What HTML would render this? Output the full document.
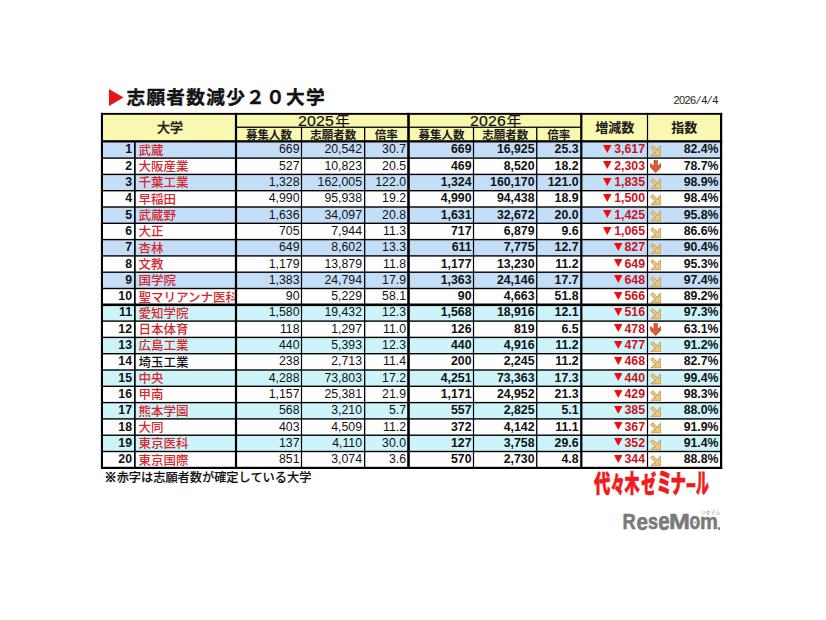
<!DOCTYPE html>
<html><head><meta charset="utf-8"><style>
html,body{margin:0;padding:0;background:#fff;}
body{width:826px;height:620px;position:relative;overflow:hidden;font-family:"Liberation Sans","Noto Sans CJK JP",sans-serif;}
.a{position:absolute;}
.bg{position:absolute;}
.ln{position:absolute;background:#000;}
.t{position:absolute;white-space:nowrap;font-size:12.3px;line-height:16px;color:#111;}
.r{text-align:right;}
.b{font-weight:bold;}
.jp{font-family:"Liberation Sans","Noto Sans CJK JP",sans-serif;}
.red{color:#d8262b;}
.h{position:absolute;white-space:nowrap;text-align:center;font-family:"Liberation Sans","Noto Sans CJK JP",sans-serif;font-weight:bold;color:#1a1a1a;}
</style></head><body>

<svg class="a" style="left:109px;top:89px" width="15" height="17" viewBox="0 0 15 17"><polygon points="0,0 14.5,8.5 0,17" fill="#e8141c"/></svg>
<div class="a" style="left:126.5px;top:83.2px;font-family:'Liberation Sans','Noto Sans CJK JP',sans-serif;font-weight:bold;font-size:18.7px;line-height:30px;color:#111;letter-spacing:1.25px;-webkit-text-stroke:0.35px #111;white-space:nowrap">志願者数減少２０大学</div>
<div class="a" style="left:673.4px;top:93.3px;font-family:'Liberation Sans',sans-serif;font-size:11px;line-height:14px;color:#1a1a1a;letter-spacing:-0.6px;white-space:nowrap">2026<span style="display:inline-block;transform:skewX(-14deg);margin:0 1.5px 0 1.7px">/</span>4<span style="display:inline-block;transform:skewX(-14deg);margin:0 1.5px 0 1.7px">/</span>4</div>
<svg class="a" style="left:0;top:0" width="826" height="620" viewBox="0 0 826 620"><rect x="101" y="113" width="621" height="28.30000000000001" fill="#f9f8b0"/><rect x="101" y="141.30" width="621" height="16.80" fill="#c5def8"/><rect x="101" y="158.10" width="621" height="16.30" fill="#fefefe"/><rect x="101" y="174.40" width="621" height="16.30" fill="#c5def8"/><rect x="101" y="190.70" width="621" height="16.30" fill="#fefefe"/><rect x="101" y="207.00" width="621" height="16.30" fill="#c5def8"/><rect x="101" y="223.30" width="621" height="16.30" fill="#fefefe"/><rect x="101" y="239.60" width="621" height="16.30" fill="#c5def8"/><rect x="101" y="255.90" width="621" height="16.30" fill="#fefefe"/><rect x="101" y="272.20" width="621" height="16.30" fill="#c5def8"/><rect x="101" y="288.50" width="621" height="16.30" fill="#fefefe"/><rect x="101" y="304.80" width="621" height="16.30" fill="#cdf4fa"/><rect x="101" y="321.10" width="621" height="16.30" fill="#fefefe"/><rect x="101" y="337.40" width="621" height="16.30" fill="#cdf4fa"/><rect x="101" y="353.70" width="621" height="16.30" fill="#fefefe"/><rect x="101" y="370.00" width="621" height="16.30" fill="#cdf4fa"/><rect x="101" y="386.30" width="621" height="16.30" fill="#fefefe"/><rect x="101" y="402.60" width="621" height="16.30" fill="#cdf4fa"/><rect x="101" y="418.90" width="621" height="16.30" fill="#fefefe"/><rect x="101" y="435.20" width="621" height="16.30" fill="#cdf4fa"/><rect x="101" y="451.50" width="621" height="16.30" fill="#fefefe"/><rect x="101" y="112.90" width="621.20" height="1.90" fill="#000"/><rect x="235" y="126.60" width="347.00" height="1.30" fill="#000"/><rect x="101" y="140.20" width="621.20" height="2.30" fill="#000"/><rect x="101" y="157.40" width="621.20" height="1.40" fill="#000"/><rect x="101" y="173.70" width="621.20" height="1.40" fill="#000"/><rect x="101" y="190.00" width="621.20" height="1.40" fill="#000"/><rect x="101" y="206.30" width="621.20" height="1.40" fill="#000"/><rect x="101" y="222.60" width="621.20" height="1.40" fill="#000"/><rect x="101" y="238.90" width="621.20" height="1.40" fill="#000"/><rect x="101" y="255.20" width="621.20" height="1.40" fill="#000"/><rect x="101" y="271.50" width="621.20" height="1.40" fill="#000"/><rect x="101" y="287.80" width="621.20" height="1.40" fill="#000"/><rect x="101" y="303.50" width="621.20" height="2.60" fill="#000"/><rect x="101" y="320.40" width="621.20" height="1.40" fill="#000"/><rect x="101" y="336.70" width="621.20" height="1.40" fill="#000"/><rect x="101" y="353.00" width="621.20" height="1.40" fill="#000"/><rect x="101" y="369.30" width="621.20" height="1.40" fill="#000"/><rect x="101" y="385.60" width="621.20" height="1.40" fill="#000"/><rect x="101" y="401.90" width="621.20" height="1.40" fill="#000"/><rect x="101" y="418.20" width="621.20" height="1.40" fill="#000"/><rect x="101" y="434.50" width="621.20" height="1.40" fill="#000"/><rect x="101" y="450.80" width="621.20" height="1.40" fill="#000"/><rect x="101" y="466.80" width="621.20" height="2.20" fill="#000"/><rect x="100.9" y="112.90" width="2.10" height="356.10" fill="#000"/><rect x="134.0" y="141.00" width="1.70" height="328.00" fill="#000"/><rect x="234.9" y="112.90" width="2.20" height="356.10" fill="#000"/><rect x="300.9" y="127.00" width="1.20" height="342.00" fill="#000"/><rect x="364.0" y="127.00" width="1.30" height="342.00" fill="#000"/><rect x="407.2" y="112.90" width="2.60" height="356.10" fill="#000"/><rect x="472.9" y="127.00" width="1.20" height="342.00" fill="#000"/><rect x="536.1" y="127.00" width="1.30" height="342.00" fill="#000"/><rect x="580.2" y="112.90" width="2.20" height="356.10" fill="#000"/><rect x="646.9" y="112.90" width="1.20" height="356.10" fill="#000"/><rect x="720.0" y="112.90" width="2.20" height="356.10" fill="#000"/></svg>
<div class="h" style="left:104px;top:114.8px;width:132px;height:25.000000000000014px;line-height:25.000000000000014px;font-size:13px;font-weight:500;-webkit-text-stroke:0.3px #1a1a1a;">大学</div>
<div class="h" style="left:240px;top:113.5px;width:170px;height:14.0px;line-height:14.0px;font-size:14px;font-family:'Liberation Sans','Noto Sans CJK JP',sans-serif;font-weight:normal;-webkit-text-stroke:0.2px #111;color:#111;"><span style="display:inline-block;transform:scaleX(1.13);letter-spacing:0.2px">2025</span><span style="font-size:14.5px;margin-left:3.2px">年</span></div>
<div class="h" style="left:411.5px;top:113.5px;width:170.0px;height:14.0px;line-height:14.0px;font-size:14px;font-family:'Liberation Sans','Noto Sans CJK JP',sans-serif;font-weight:normal;-webkit-text-stroke:0.2px #111;color:#111;"><span style="display:inline-block;transform:scaleX(1.13);letter-spacing:0.2px">2026</span><span style="font-size:14.5px;margin-left:3.2px">年</span></div>
<div class="h" style="left:237px;top:128.5px;width:64px;height:12.0px;line-height:12.0px;font-size:11.5px;font-weight:bold;">募集人数</div>
<div class="h" style="left:302.5px;top:128.5px;width:61.5px;height:12.0px;line-height:12.0px;font-size:11.5px;font-weight:bold;">志願者数</div>
<div class="h" style="left:365.5px;top:128.5px;width:41.5px;height:12.0px;line-height:12.0px;font-size:11.5px;font-weight:bold;">倍率</div>
<div class="h" style="left:410px;top:128.5px;width:63px;height:12.0px;line-height:12.0px;font-size:11.5px;font-weight:bold;">募集人数</div>
<div class="h" style="left:474.5px;top:128.5px;width:61.5px;height:12.0px;line-height:12.0px;font-size:11.5px;font-weight:bold;">志願者数</div>
<div class="h" style="left:537.5px;top:128.5px;width:42.5px;height:12.0px;line-height:12.0px;font-size:11.5px;font-weight:bold;">倍率</div>
<div class="h" style="left:582.5px;top:114.8px;width:64.5px;height:25.000000000000014px;line-height:25.000000000000014px;font-size:13px;">増減数</div>
<div class="h" style="left:648.5px;top:114.8px;width:71.5px;height:25.000000000000014px;line-height:25.000000000000014px;font-size:13px;">指数</div>
<div class="t r b" style="left:103px;top:142.40px;width:29px;height:14.70px;line-height:14.70px;">1</div>
<div class="t jp red" style="left:138.5px;top:143.80px;width:96.5px;height:14.70px;line-height:14.70px;font-size:12.5px;overflow:hidden;font-weight:500;">武蔵</div>
<div class="t r" style="left:237px;top:142.40px;width:62.5px;height:14.70px;line-height:14.70px;">669</div>
<div class="t r" style="left:302.5px;top:142.40px;width:59.5px;height:14.70px;line-height:14.70px;">20,542</div>
<div class="t r" style="left:365.5px;top:142.40px;width:40.5px;height:14.70px;line-height:14.70px;">30.7</div>
<div class="t r b" style="left:410px;top:142.40px;width:61.5px;height:14.70px;line-height:14.70px;">669</div>
<div class="t r b" style="left:474.5px;top:142.40px;width:60.0px;height:14.70px;line-height:14.70px;">16,925</div>
<div class="t r b" style="left:537.5px;top:142.40px;width:41.0px;height:14.70px;line-height:14.70px;">25.3</div>
<div class="t r b" style="left:582.5px;top:142.40px;width:62.5px;height:14.70px;line-height:14.70px;color:#c8141e;"><svg width="8.5" height="8" viewBox="0 0 8.5 8" style="margin-right:2.4px;vertical-align:0.4px"><polygon points="0,0 8.5,0 4.25,8" fill="#f20c0c"/></svg>3,617</div>
<div class="t r b" style="left:648.5px;top:142.40px;width:70.0px;height:14.70px;line-height:14.70px;">82.4%</div>
<div class="a" style="left:649.6px;top:145.10px;line-height:0"><svg width="11.5" height="11.5" viewBox="0 0 11.5 11.5"><path d="M2.7,0.6 L8.0,5.9 L8.0,3.4 L10.8,0.9 L10.8,10.8 L0.9,10.8 L3.4,8.0 L5.9,8.0 L0.6,2.7 Z" fill="#efc877" stroke="#a98e58" stroke-width="0.75" stroke-linejoin="round"/></svg></div>
<div class="t r b" style="left:103px;top:158.70px;width:29px;height:14.70px;line-height:14.70px;">2</div>
<div class="t jp red" style="left:138.5px;top:160.10px;width:96.5px;height:14.70px;line-height:14.70px;font-size:12.5px;overflow:hidden;font-weight:500;">大阪産業</div>
<div class="t r" style="left:237px;top:158.70px;width:62.5px;height:14.70px;line-height:14.70px;">527</div>
<div class="t r" style="left:302.5px;top:158.70px;width:59.5px;height:14.70px;line-height:14.70px;">10,823</div>
<div class="t r" style="left:365.5px;top:158.70px;width:40.5px;height:14.70px;line-height:14.70px;">20.5</div>
<div class="t r b" style="left:410px;top:158.70px;width:61.5px;height:14.70px;line-height:14.70px;">469</div>
<div class="t r b" style="left:474.5px;top:158.70px;width:60.0px;height:14.70px;line-height:14.70px;">8,520</div>
<div class="t r b" style="left:537.5px;top:158.70px;width:41.0px;height:14.70px;line-height:14.70px;">18.2</div>
<div class="t r b" style="left:582.5px;top:158.70px;width:62.5px;height:14.70px;line-height:14.70px;color:#c8141e;"><svg width="8.5" height="8" viewBox="0 0 8.5 8" style="margin-right:2.4px;vertical-align:0.4px"><polygon points="0,0 8.5,0 4.25,8" fill="#f20c0c"/></svg>2,303</div>
<div class="t r b" style="left:648.5px;top:158.70px;width:70.0px;height:14.70px;line-height:14.70px;">78.7%</div>
<div class="a" style="left:649.9px;top:160.00px;line-height:0"><svg width="11.5" height="13" viewBox="0 0 11.5 13"><path d="M4.0,0.4 L7.4,0.4 L7.4,6.4 L10.9,3.6 L10.9,7.2 L5.7,12.6 L0.5,7.2 L0.5,3.6 L4.0,6.4 Z" fill="#e05a32" stroke="#a9421f" stroke-width="0.7" stroke-linejoin="round"/></svg></div>
<div class="t r b" style="left:103px;top:175.00px;width:29px;height:14.70px;line-height:14.70px;">3</div>
<div class="t jp red" style="left:138.5px;top:176.40px;width:96.5px;height:14.70px;line-height:14.70px;font-size:12.5px;overflow:hidden;font-weight:500;">千葉工業</div>
<div class="t r" style="left:237px;top:175.00px;width:62.5px;height:14.70px;line-height:14.70px;">1,328</div>
<div class="t r" style="left:302.5px;top:175.00px;width:59.5px;height:14.70px;line-height:14.70px;">162,005</div>
<div class="t r" style="left:365.5px;top:175.00px;width:40.5px;height:14.70px;line-height:14.70px;">122.0</div>
<div class="t r b" style="left:410px;top:175.00px;width:61.5px;height:14.70px;line-height:14.70px;">1,324</div>
<div class="t r b" style="left:474.5px;top:175.00px;width:60.0px;height:14.70px;line-height:14.70px;">160,170</div>
<div class="t r b" style="left:537.5px;top:175.00px;width:41.0px;height:14.70px;line-height:14.70px;">121.0</div>
<div class="t r b" style="left:582.5px;top:175.00px;width:62.5px;height:14.70px;line-height:14.70px;color:#c8141e;"><svg width="8.5" height="8" viewBox="0 0 8.5 8" style="margin-right:2.4px;vertical-align:0.4px"><polygon points="0,0 8.5,0 4.25,8" fill="#f20c0c"/></svg>1,835</div>
<div class="t r b" style="left:648.5px;top:175.00px;width:70.0px;height:14.70px;line-height:14.70px;">98.9%</div>
<div class="a" style="left:649.6px;top:177.70px;line-height:0"><svg width="11.5" height="11.5" viewBox="0 0 11.5 11.5"><path d="M2.7,0.6 L8.0,5.9 L8.0,3.4 L10.8,0.9 L10.8,10.8 L0.9,10.8 L3.4,8.0 L5.9,8.0 L0.6,2.7 Z" fill="#efc877" stroke="#a98e58" stroke-width="0.75" stroke-linejoin="round"/></svg></div>
<div class="t r b" style="left:103px;top:191.30px;width:29px;height:14.70px;line-height:14.70px;">4</div>
<div class="t jp red" style="left:138.5px;top:192.70px;width:96.5px;height:14.70px;line-height:14.70px;font-size:12.5px;overflow:hidden;font-weight:500;">早稲田</div>
<div class="t r" style="left:237px;top:191.30px;width:62.5px;height:14.70px;line-height:14.70px;">4,990</div>
<div class="t r" style="left:302.5px;top:191.30px;width:59.5px;height:14.70px;line-height:14.70px;">95,938</div>
<div class="t r" style="left:365.5px;top:191.30px;width:40.5px;height:14.70px;line-height:14.70px;">19.2</div>
<div class="t r b" style="left:410px;top:191.30px;width:61.5px;height:14.70px;line-height:14.70px;">4,990</div>
<div class="t r b" style="left:474.5px;top:191.30px;width:60.0px;height:14.70px;line-height:14.70px;">94,438</div>
<div class="t r b" style="left:537.5px;top:191.30px;width:41.0px;height:14.70px;line-height:14.70px;">18.9</div>
<div class="t r b" style="left:582.5px;top:191.30px;width:62.5px;height:14.70px;line-height:14.70px;color:#c8141e;"><svg width="8.5" height="8" viewBox="0 0 8.5 8" style="margin-right:2.4px;vertical-align:0.4px"><polygon points="0,0 8.5,0 4.25,8" fill="#f20c0c"/></svg>1,500</div>
<div class="t r b" style="left:648.5px;top:191.30px;width:70.0px;height:14.70px;line-height:14.70px;">98.4%</div>
<div class="a" style="left:649.6px;top:194.00px;line-height:0"><svg width="11.5" height="11.5" viewBox="0 0 11.5 11.5"><path d="M2.7,0.6 L8.0,5.9 L8.0,3.4 L10.8,0.9 L10.8,10.8 L0.9,10.8 L3.4,8.0 L5.9,8.0 L0.6,2.7 Z" fill="#efc877" stroke="#a98e58" stroke-width="0.75" stroke-linejoin="round"/></svg></div>
<div class="t r b" style="left:103px;top:207.60px;width:29px;height:14.70px;line-height:14.70px;">5</div>
<div class="t jp red" style="left:138.5px;top:209.00px;width:96.5px;height:14.70px;line-height:14.70px;font-size:12.5px;overflow:hidden;font-weight:500;">武蔵野</div>
<div class="t r" style="left:237px;top:207.60px;width:62.5px;height:14.70px;line-height:14.70px;">1,636</div>
<div class="t r" style="left:302.5px;top:207.60px;width:59.5px;height:14.70px;line-height:14.70px;">34,097</div>
<div class="t r" style="left:365.5px;top:207.60px;width:40.5px;height:14.70px;line-height:14.70px;">20.8</div>
<div class="t r b" style="left:410px;top:207.60px;width:61.5px;height:14.70px;line-height:14.70px;">1,631</div>
<div class="t r b" style="left:474.5px;top:207.60px;width:60.0px;height:14.70px;line-height:14.70px;">32,672</div>
<div class="t r b" style="left:537.5px;top:207.60px;width:41.0px;height:14.70px;line-height:14.70px;">20.0</div>
<div class="t r b" style="left:582.5px;top:207.60px;width:62.5px;height:14.70px;line-height:14.70px;color:#c8141e;"><svg width="8.5" height="8" viewBox="0 0 8.5 8" style="margin-right:2.4px;vertical-align:0.4px"><polygon points="0,0 8.5,0 4.25,8" fill="#f20c0c"/></svg>1,425</div>
<div class="t r b" style="left:648.5px;top:207.60px;width:70.0px;height:14.70px;line-height:14.70px;">95.8%</div>
<div class="a" style="left:649.6px;top:210.30px;line-height:0"><svg width="11.5" height="11.5" viewBox="0 0 11.5 11.5"><path d="M2.7,0.6 L8.0,5.9 L8.0,3.4 L10.8,0.9 L10.8,10.8 L0.9,10.8 L3.4,8.0 L5.9,8.0 L0.6,2.7 Z" fill="#efc877" stroke="#a98e58" stroke-width="0.75" stroke-linejoin="round"/></svg></div>
<div class="t r b" style="left:103px;top:223.90px;width:29px;height:14.70px;line-height:14.70px;">6</div>
<div class="t jp red" style="left:138.5px;top:225.30px;width:96.5px;height:14.70px;line-height:14.70px;font-size:12.5px;overflow:hidden;font-weight:500;">大正</div>
<div class="t r" style="left:237px;top:223.90px;width:62.5px;height:14.70px;line-height:14.70px;">705</div>
<div class="t r" style="left:302.5px;top:223.90px;width:59.5px;height:14.70px;line-height:14.70px;">7,944</div>
<div class="t r" style="left:365.5px;top:223.90px;width:40.5px;height:14.70px;line-height:14.70px;">11.3</div>
<div class="t r b" style="left:410px;top:223.90px;width:61.5px;height:14.70px;line-height:14.70px;">717</div>
<div class="t r b" style="left:474.5px;top:223.90px;width:60.0px;height:14.70px;line-height:14.70px;">6,879</div>
<div class="t r b" style="left:537.5px;top:223.90px;width:41.0px;height:14.70px;line-height:14.70px;">9.6</div>
<div class="t r b" style="left:582.5px;top:223.90px;width:62.5px;height:14.70px;line-height:14.70px;color:#c8141e;"><svg width="8.5" height="8" viewBox="0 0 8.5 8" style="margin-right:2.4px;vertical-align:0.4px"><polygon points="0,0 8.5,0 4.25,8" fill="#f20c0c"/></svg>1,065</div>
<div class="t r b" style="left:648.5px;top:223.90px;width:70.0px;height:14.70px;line-height:14.70px;">86.6%</div>
<div class="a" style="left:649.6px;top:226.60px;line-height:0"><svg width="11.5" height="11.5" viewBox="0 0 11.5 11.5"><path d="M2.7,0.6 L8.0,5.9 L8.0,3.4 L10.8,0.9 L10.8,10.8 L0.9,10.8 L3.4,8.0 L5.9,8.0 L0.6,2.7 Z" fill="#efc877" stroke="#a98e58" stroke-width="0.75" stroke-linejoin="round"/></svg></div>
<div class="t r b" style="left:103px;top:240.20px;width:29px;height:14.70px;line-height:14.70px;">7</div>
<div class="t jp red" style="left:138.5px;top:241.60px;width:96.5px;height:14.70px;line-height:14.70px;font-size:12.5px;overflow:hidden;font-weight:500;">杏林</div>
<div class="t r" style="left:237px;top:240.20px;width:62.5px;height:14.70px;line-height:14.70px;">649</div>
<div class="t r" style="left:302.5px;top:240.20px;width:59.5px;height:14.70px;line-height:14.70px;">8,602</div>
<div class="t r" style="left:365.5px;top:240.20px;width:40.5px;height:14.70px;line-height:14.70px;">13.3</div>
<div class="t r b" style="left:410px;top:240.20px;width:61.5px;height:14.70px;line-height:14.70px;">611</div>
<div class="t r b" style="left:474.5px;top:240.20px;width:60.0px;height:14.70px;line-height:14.70px;">7,775</div>
<div class="t r b" style="left:537.5px;top:240.20px;width:41.0px;height:14.70px;line-height:14.70px;">12.7</div>
<div class="t r b" style="left:582.5px;top:240.20px;width:62.5px;height:14.70px;line-height:14.70px;color:#c8141e;"><svg width="8.5" height="8" viewBox="0 0 8.5 8" style="margin-right:2.4px;vertical-align:0.4px"><polygon points="0,0 8.5,0 4.25,8" fill="#f20c0c"/></svg>827</div>
<div class="t r b" style="left:648.5px;top:240.20px;width:70.0px;height:14.70px;line-height:14.70px;">90.4%</div>
<div class="a" style="left:649.6px;top:242.90px;line-height:0"><svg width="11.5" height="11.5" viewBox="0 0 11.5 11.5"><path d="M2.7,0.6 L8.0,5.9 L8.0,3.4 L10.8,0.9 L10.8,10.8 L0.9,10.8 L3.4,8.0 L5.9,8.0 L0.6,2.7 Z" fill="#efc877" stroke="#a98e58" stroke-width="0.75" stroke-linejoin="round"/></svg></div>
<div class="t r b" style="left:103px;top:256.50px;width:29px;height:14.70px;line-height:14.70px;">8</div>
<div class="t jp red" style="left:138.5px;top:257.90px;width:96.5px;height:14.70px;line-height:14.70px;font-size:12.5px;overflow:hidden;font-weight:500;">文教</div>
<div class="t r" style="left:237px;top:256.50px;width:62.5px;height:14.70px;line-height:14.70px;">1,179</div>
<div class="t r" style="left:302.5px;top:256.50px;width:59.5px;height:14.70px;line-height:14.70px;">13,879</div>
<div class="t r" style="left:365.5px;top:256.50px;width:40.5px;height:14.70px;line-height:14.70px;">11.8</div>
<div class="t r b" style="left:410px;top:256.50px;width:61.5px;height:14.70px;line-height:14.70px;">1,177</div>
<div class="t r b" style="left:474.5px;top:256.50px;width:60.0px;height:14.70px;line-height:14.70px;">13,230</div>
<div class="t r b" style="left:537.5px;top:256.50px;width:41.0px;height:14.70px;line-height:14.70px;">11.2</div>
<div class="t r b" style="left:582.5px;top:256.50px;width:62.5px;height:14.70px;line-height:14.70px;color:#c8141e;"><svg width="8.5" height="8" viewBox="0 0 8.5 8" style="margin-right:2.4px;vertical-align:0.4px"><polygon points="0,0 8.5,0 4.25,8" fill="#f20c0c"/></svg>649</div>
<div class="t r b" style="left:648.5px;top:256.50px;width:70.0px;height:14.70px;line-height:14.70px;">95.3%</div>
<div class="a" style="left:649.6px;top:259.20px;line-height:0"><svg width="11.5" height="11.5" viewBox="0 0 11.5 11.5"><path d="M2.7,0.6 L8.0,5.9 L8.0,3.4 L10.8,0.9 L10.8,10.8 L0.9,10.8 L3.4,8.0 L5.9,8.0 L0.6,2.7 Z" fill="#efc877" stroke="#a98e58" stroke-width="0.75" stroke-linejoin="round"/></svg></div>
<div class="t r b" style="left:103px;top:272.80px;width:29px;height:14.70px;line-height:14.70px;">9</div>
<div class="t jp red" style="left:138.5px;top:274.20px;width:96.5px;height:14.70px;line-height:14.70px;font-size:12.5px;overflow:hidden;font-weight:500;">国学院</div>
<div class="t r" style="left:237px;top:272.80px;width:62.5px;height:14.70px;line-height:14.70px;">1,383</div>
<div class="t r" style="left:302.5px;top:272.80px;width:59.5px;height:14.70px;line-height:14.70px;">24,794</div>
<div class="t r" style="left:365.5px;top:272.80px;width:40.5px;height:14.70px;line-height:14.70px;">17.9</div>
<div class="t r b" style="left:410px;top:272.80px;width:61.5px;height:14.70px;line-height:14.70px;">1,363</div>
<div class="t r b" style="left:474.5px;top:272.80px;width:60.0px;height:14.70px;line-height:14.70px;">24,146</div>
<div class="t r b" style="left:537.5px;top:272.80px;width:41.0px;height:14.70px;line-height:14.70px;">17.7</div>
<div class="t r b" style="left:582.5px;top:272.80px;width:62.5px;height:14.70px;line-height:14.70px;color:#c8141e;"><svg width="8.5" height="8" viewBox="0 0 8.5 8" style="margin-right:2.4px;vertical-align:0.4px"><polygon points="0,0 8.5,0 4.25,8" fill="#f20c0c"/></svg>648</div>
<div class="t r b" style="left:648.5px;top:272.80px;width:70.0px;height:14.70px;line-height:14.70px;">97.4%</div>
<div class="a" style="left:649.6px;top:275.50px;line-height:0"><svg width="11.5" height="11.5" viewBox="0 0 11.5 11.5"><path d="M2.7,0.6 L8.0,5.9 L8.0,3.4 L10.8,0.9 L10.8,10.8 L0.9,10.8 L3.4,8.0 L5.9,8.0 L0.6,2.7 Z" fill="#efc877" stroke="#a98e58" stroke-width="0.75" stroke-linejoin="round"/></svg></div>
<div class="t r b" style="left:103px;top:289.10px;width:29px;height:14.70px;line-height:14.70px;">10</div>
<div class="t jp red" style="left:138.5px;top:290.50px;width:96.5px;height:14.70px;line-height:14.70px;font-size:12.5px;overflow:hidden;font-weight:500;">聖マリアンナ医科</div>
<div class="t r" style="left:237px;top:289.10px;width:62.5px;height:14.70px;line-height:14.70px;">90</div>
<div class="t r" style="left:302.5px;top:289.10px;width:59.5px;height:14.70px;line-height:14.70px;">5,229</div>
<div class="t r" style="left:365.5px;top:289.10px;width:40.5px;height:14.70px;line-height:14.70px;">58.1</div>
<div class="t r b" style="left:410px;top:289.10px;width:61.5px;height:14.70px;line-height:14.70px;">90</div>
<div class="t r b" style="left:474.5px;top:289.10px;width:60.0px;height:14.70px;line-height:14.70px;">4,663</div>
<div class="t r b" style="left:537.5px;top:289.10px;width:41.0px;height:14.70px;line-height:14.70px;">51.8</div>
<div class="t r b" style="left:582.5px;top:289.10px;width:62.5px;height:14.70px;line-height:14.70px;color:#c8141e;"><svg width="8.5" height="8" viewBox="0 0 8.5 8" style="margin-right:2.4px;vertical-align:0.4px"><polygon points="0,0 8.5,0 4.25,8" fill="#f20c0c"/></svg>566</div>
<div class="t r b" style="left:648.5px;top:289.10px;width:70.0px;height:14.70px;line-height:14.70px;">89.2%</div>
<div class="a" style="left:649.6px;top:291.80px;line-height:0"><svg width="11.5" height="11.5" viewBox="0 0 11.5 11.5"><path d="M2.7,0.6 L8.0,5.9 L8.0,3.4 L10.8,0.9 L10.8,10.8 L0.9,10.8 L3.4,8.0 L5.9,8.0 L0.6,2.7 Z" fill="#efc877" stroke="#a98e58" stroke-width="0.75" stroke-linejoin="round"/></svg></div>
<div class="t r b" style="left:103px;top:305.40px;width:29px;height:14.70px;line-height:14.70px;">11</div>
<div class="t jp red" style="left:138.5px;top:306.80px;width:96.5px;height:14.70px;line-height:14.70px;font-size:12.5px;overflow:hidden;font-weight:500;">愛知学院</div>
<div class="t r" style="left:237px;top:305.40px;width:62.5px;height:14.70px;line-height:14.70px;">1,580</div>
<div class="t r" style="left:302.5px;top:305.40px;width:59.5px;height:14.70px;line-height:14.70px;">19,432</div>
<div class="t r" style="left:365.5px;top:305.40px;width:40.5px;height:14.70px;line-height:14.70px;">12.3</div>
<div class="t r b" style="left:410px;top:305.40px;width:61.5px;height:14.70px;line-height:14.70px;">1,568</div>
<div class="t r b" style="left:474.5px;top:305.40px;width:60.0px;height:14.70px;line-height:14.70px;">18,916</div>
<div class="t r b" style="left:537.5px;top:305.40px;width:41.0px;height:14.70px;line-height:14.70px;">12.1</div>
<div class="t r b" style="left:582.5px;top:305.40px;width:62.5px;height:14.70px;line-height:14.70px;color:#c8141e;"><svg width="8.5" height="8" viewBox="0 0 8.5 8" style="margin-right:2.4px;vertical-align:0.4px"><polygon points="0,0 8.5,0 4.25,8" fill="#f20c0c"/></svg>516</div>
<div class="t r b" style="left:648.5px;top:305.40px;width:70.0px;height:14.70px;line-height:14.70px;">97.3%</div>
<div class="a" style="left:649.6px;top:308.10px;line-height:0"><svg width="11.5" height="11.5" viewBox="0 0 11.5 11.5"><path d="M2.7,0.6 L8.0,5.9 L8.0,3.4 L10.8,0.9 L10.8,10.8 L0.9,10.8 L3.4,8.0 L5.9,8.0 L0.6,2.7 Z" fill="#efc877" stroke="#a98e58" stroke-width="0.75" stroke-linejoin="round"/></svg></div>
<div class="t r b" style="left:103px;top:321.70px;width:29px;height:14.70px;line-height:14.70px;">12</div>
<div class="t jp red" style="left:138.5px;top:323.10px;width:96.5px;height:14.70px;line-height:14.70px;font-size:12.5px;overflow:hidden;font-weight:500;">日本体育</div>
<div class="t r" style="left:237px;top:321.70px;width:62.5px;height:14.70px;line-height:14.70px;">118</div>
<div class="t r" style="left:302.5px;top:321.70px;width:59.5px;height:14.70px;line-height:14.70px;">1,297</div>
<div class="t r" style="left:365.5px;top:321.70px;width:40.5px;height:14.70px;line-height:14.70px;">11.0</div>
<div class="t r b" style="left:410px;top:321.70px;width:61.5px;height:14.70px;line-height:14.70px;">126</div>
<div class="t r b" style="left:474.5px;top:321.70px;width:60.0px;height:14.70px;line-height:14.70px;">819</div>
<div class="t r b" style="left:537.5px;top:321.70px;width:41.0px;height:14.70px;line-height:14.70px;">6.5</div>
<div class="t r b" style="left:582.5px;top:321.70px;width:62.5px;height:14.70px;line-height:14.70px;color:#c8141e;"><svg width="8.5" height="8" viewBox="0 0 8.5 8" style="margin-right:2.4px;vertical-align:0.4px"><polygon points="0,0 8.5,0 4.25,8" fill="#f20c0c"/></svg>478</div>
<div class="t r b" style="left:648.5px;top:321.70px;width:70.0px;height:14.70px;line-height:14.70px;">63.1%</div>
<div class="a" style="left:649.9px;top:323.00px;line-height:0"><svg width="11.5" height="13" viewBox="0 0 11.5 13"><path d="M4.0,0.4 L7.4,0.4 L7.4,6.4 L10.9,3.6 L10.9,7.2 L5.7,12.6 L0.5,7.2 L0.5,3.6 L4.0,6.4 Z" fill="#e05a32" stroke="#a9421f" stroke-width="0.7" stroke-linejoin="round"/></svg></div>
<div class="t r b" style="left:103px;top:338.00px;width:29px;height:14.70px;line-height:14.70px;">13</div>
<div class="t jp red" style="left:138.5px;top:339.40px;width:96.5px;height:14.70px;line-height:14.70px;font-size:12.5px;overflow:hidden;font-weight:500;">広島工業</div>
<div class="t r" style="left:237px;top:338.00px;width:62.5px;height:14.70px;line-height:14.70px;">440</div>
<div class="t r" style="left:302.5px;top:338.00px;width:59.5px;height:14.70px;line-height:14.70px;">5,393</div>
<div class="t r" style="left:365.5px;top:338.00px;width:40.5px;height:14.70px;line-height:14.70px;">12.3</div>
<div class="t r b" style="left:410px;top:338.00px;width:61.5px;height:14.70px;line-height:14.70px;">440</div>
<div class="t r b" style="left:474.5px;top:338.00px;width:60.0px;height:14.70px;line-height:14.70px;">4,916</div>
<div class="t r b" style="left:537.5px;top:338.00px;width:41.0px;height:14.70px;line-height:14.70px;">11.2</div>
<div class="t r b" style="left:582.5px;top:338.00px;width:62.5px;height:14.70px;line-height:14.70px;color:#c8141e;"><svg width="8.5" height="8" viewBox="0 0 8.5 8" style="margin-right:2.4px;vertical-align:0.4px"><polygon points="0,0 8.5,0 4.25,8" fill="#f20c0c"/></svg>477</div>
<div class="t r b" style="left:648.5px;top:338.00px;width:70.0px;height:14.70px;line-height:14.70px;">91.2%</div>
<div class="a" style="left:649.6px;top:340.70px;line-height:0"><svg width="11.5" height="11.5" viewBox="0 0 11.5 11.5"><path d="M2.7,0.6 L8.0,5.9 L8.0,3.4 L10.8,0.9 L10.8,10.8 L0.9,10.8 L3.4,8.0 L5.9,8.0 L0.6,2.7 Z" fill="#efc877" stroke="#a98e58" stroke-width="0.75" stroke-linejoin="round"/></svg></div>
<div class="t r b" style="left:103px;top:354.30px;width:29px;height:14.70px;line-height:14.70px;">14</div>
<div class="t jp " style="left:138.5px;top:355.70px;width:96.5px;height:14.70px;line-height:14.70px;font-size:12.5px;overflow:hidden;font-weight:500;">埼玉工業</div>
<div class="t r" style="left:237px;top:354.30px;width:62.5px;height:14.70px;line-height:14.70px;">238</div>
<div class="t r" style="left:302.5px;top:354.30px;width:59.5px;height:14.70px;line-height:14.70px;">2,713</div>
<div class="t r" style="left:365.5px;top:354.30px;width:40.5px;height:14.70px;line-height:14.70px;">11.4</div>
<div class="t r b" style="left:410px;top:354.30px;width:61.5px;height:14.70px;line-height:14.70px;">200</div>
<div class="t r b" style="left:474.5px;top:354.30px;width:60.0px;height:14.70px;line-height:14.70px;">2,245</div>
<div class="t r b" style="left:537.5px;top:354.30px;width:41.0px;height:14.70px;line-height:14.70px;">11.2</div>
<div class="t r b" style="left:582.5px;top:354.30px;width:62.5px;height:14.70px;line-height:14.70px;color:#c8141e;"><svg width="8.5" height="8" viewBox="0 0 8.5 8" style="margin-right:2.4px;vertical-align:0.4px"><polygon points="0,0 8.5,0 4.25,8" fill="#f20c0c"/></svg>468</div>
<div class="t r b" style="left:648.5px;top:354.30px;width:70.0px;height:14.70px;line-height:14.70px;">82.7%</div>
<div class="a" style="left:649.6px;top:357.00px;line-height:0"><svg width="11.5" height="11.5" viewBox="0 0 11.5 11.5"><path d="M2.7,0.6 L8.0,5.9 L8.0,3.4 L10.8,0.9 L10.8,10.8 L0.9,10.8 L3.4,8.0 L5.9,8.0 L0.6,2.7 Z" fill="#efc877" stroke="#a98e58" stroke-width="0.75" stroke-linejoin="round"/></svg></div>
<div class="t r b" style="left:103px;top:370.60px;width:29px;height:14.70px;line-height:14.70px;">15</div>
<div class="t jp red" style="left:138.5px;top:372.00px;width:96.5px;height:14.70px;line-height:14.70px;font-size:12.5px;overflow:hidden;font-weight:500;">中央</div>
<div class="t r" style="left:237px;top:370.60px;width:62.5px;height:14.70px;line-height:14.70px;">4,288</div>
<div class="t r" style="left:302.5px;top:370.60px;width:59.5px;height:14.70px;line-height:14.70px;">73,803</div>
<div class="t r" style="left:365.5px;top:370.60px;width:40.5px;height:14.70px;line-height:14.70px;">17.2</div>
<div class="t r b" style="left:410px;top:370.60px;width:61.5px;height:14.70px;line-height:14.70px;">4,251</div>
<div class="t r b" style="left:474.5px;top:370.60px;width:60.0px;height:14.70px;line-height:14.70px;">73,363</div>
<div class="t r b" style="left:537.5px;top:370.60px;width:41.0px;height:14.70px;line-height:14.70px;">17.3</div>
<div class="t r b" style="left:582.5px;top:370.60px;width:62.5px;height:14.70px;line-height:14.70px;color:#c8141e;"><svg width="8.5" height="8" viewBox="0 0 8.5 8" style="margin-right:2.4px;vertical-align:0.4px"><polygon points="0,0 8.5,0 4.25,8" fill="#f20c0c"/></svg>440</div>
<div class="t r b" style="left:648.5px;top:370.60px;width:70.0px;height:14.70px;line-height:14.70px;">99.4%</div>
<div class="a" style="left:649.6px;top:373.30px;line-height:0"><svg width="11.5" height="11.5" viewBox="0 0 11.5 11.5"><path d="M2.7,0.6 L8.0,5.9 L8.0,3.4 L10.8,0.9 L10.8,10.8 L0.9,10.8 L3.4,8.0 L5.9,8.0 L0.6,2.7 Z" fill="#efc877" stroke="#a98e58" stroke-width="0.75" stroke-linejoin="round"/></svg></div>
<div class="t r b" style="left:103px;top:386.90px;width:29px;height:14.70px;line-height:14.70px;">16</div>
<div class="t jp red" style="left:138.5px;top:388.30px;width:96.5px;height:14.70px;line-height:14.70px;font-size:12.5px;overflow:hidden;font-weight:500;">甲南</div>
<div class="t r" style="left:237px;top:386.90px;width:62.5px;height:14.70px;line-height:14.70px;">1,157</div>
<div class="t r" style="left:302.5px;top:386.90px;width:59.5px;height:14.70px;line-height:14.70px;">25,381</div>
<div class="t r" style="left:365.5px;top:386.90px;width:40.5px;height:14.70px;line-height:14.70px;">21.9</div>
<div class="t r b" style="left:410px;top:386.90px;width:61.5px;height:14.70px;line-height:14.70px;">1,171</div>
<div class="t r b" style="left:474.5px;top:386.90px;width:60.0px;height:14.70px;line-height:14.70px;">24,952</div>
<div class="t r b" style="left:537.5px;top:386.90px;width:41.0px;height:14.70px;line-height:14.70px;">21.3</div>
<div class="t r b" style="left:582.5px;top:386.90px;width:62.5px;height:14.70px;line-height:14.70px;color:#c8141e;"><svg width="8.5" height="8" viewBox="0 0 8.5 8" style="margin-right:2.4px;vertical-align:0.4px"><polygon points="0,0 8.5,0 4.25,8" fill="#f20c0c"/></svg>429</div>
<div class="t r b" style="left:648.5px;top:386.90px;width:70.0px;height:14.70px;line-height:14.70px;">98.3%</div>
<div class="a" style="left:649.6px;top:389.60px;line-height:0"><svg width="11.5" height="11.5" viewBox="0 0 11.5 11.5"><path d="M2.7,0.6 L8.0,5.9 L8.0,3.4 L10.8,0.9 L10.8,10.8 L0.9,10.8 L3.4,8.0 L5.9,8.0 L0.6,2.7 Z" fill="#efc877" stroke="#a98e58" stroke-width="0.75" stroke-linejoin="round"/></svg></div>
<div class="t r b" style="left:103px;top:403.20px;width:29px;height:14.70px;line-height:14.70px;">17</div>
<div class="t jp red" style="left:138.5px;top:404.60px;width:96.5px;height:14.70px;line-height:14.70px;font-size:12.5px;overflow:hidden;font-weight:500;">熊本学園</div>
<div class="t r" style="left:237px;top:403.20px;width:62.5px;height:14.70px;line-height:14.70px;">568</div>
<div class="t r" style="left:302.5px;top:403.20px;width:59.5px;height:14.70px;line-height:14.70px;">3,210</div>
<div class="t r" style="left:365.5px;top:403.20px;width:40.5px;height:14.70px;line-height:14.70px;">5.7</div>
<div class="t r b" style="left:410px;top:403.20px;width:61.5px;height:14.70px;line-height:14.70px;">557</div>
<div class="t r b" style="left:474.5px;top:403.20px;width:60.0px;height:14.70px;line-height:14.70px;">2,825</div>
<div class="t r b" style="left:537.5px;top:403.20px;width:41.0px;height:14.70px;line-height:14.70px;">5.1</div>
<div class="t r b" style="left:582.5px;top:403.20px;width:62.5px;height:14.70px;line-height:14.70px;color:#c8141e;"><svg width="8.5" height="8" viewBox="0 0 8.5 8" style="margin-right:2.4px;vertical-align:0.4px"><polygon points="0,0 8.5,0 4.25,8" fill="#f20c0c"/></svg>385</div>
<div class="t r b" style="left:648.5px;top:403.20px;width:70.0px;height:14.70px;line-height:14.70px;">88.0%</div>
<div class="a" style="left:649.6px;top:405.90px;line-height:0"><svg width="11.5" height="11.5" viewBox="0 0 11.5 11.5"><path d="M2.7,0.6 L8.0,5.9 L8.0,3.4 L10.8,0.9 L10.8,10.8 L0.9,10.8 L3.4,8.0 L5.9,8.0 L0.6,2.7 Z" fill="#efc877" stroke="#a98e58" stroke-width="0.75" stroke-linejoin="round"/></svg></div>
<div class="t r b" style="left:103px;top:419.50px;width:29px;height:14.70px;line-height:14.70px;">18</div>
<div class="t jp red" style="left:138.5px;top:420.90px;width:96.5px;height:14.70px;line-height:14.70px;font-size:12.5px;overflow:hidden;font-weight:500;">大同</div>
<div class="t r" style="left:237px;top:419.50px;width:62.5px;height:14.70px;line-height:14.70px;">403</div>
<div class="t r" style="left:302.5px;top:419.50px;width:59.5px;height:14.70px;line-height:14.70px;">4,509</div>
<div class="t r" style="left:365.5px;top:419.50px;width:40.5px;height:14.70px;line-height:14.70px;">11.2</div>
<div class="t r b" style="left:410px;top:419.50px;width:61.5px;height:14.70px;line-height:14.70px;">372</div>
<div class="t r b" style="left:474.5px;top:419.50px;width:60.0px;height:14.70px;line-height:14.70px;">4,142</div>
<div class="t r b" style="left:537.5px;top:419.50px;width:41.0px;height:14.70px;line-height:14.70px;">11.1</div>
<div class="t r b" style="left:582.5px;top:419.50px;width:62.5px;height:14.70px;line-height:14.70px;color:#c8141e;"><svg width="8.5" height="8" viewBox="0 0 8.5 8" style="margin-right:2.4px;vertical-align:0.4px"><polygon points="0,0 8.5,0 4.25,8" fill="#f20c0c"/></svg>367</div>
<div class="t r b" style="left:648.5px;top:419.50px;width:70.0px;height:14.70px;line-height:14.70px;">91.9%</div>
<div class="a" style="left:649.6px;top:422.20px;line-height:0"><svg width="11.5" height="11.5" viewBox="0 0 11.5 11.5"><path d="M2.7,0.6 L8.0,5.9 L8.0,3.4 L10.8,0.9 L10.8,10.8 L0.9,10.8 L3.4,8.0 L5.9,8.0 L0.6,2.7 Z" fill="#efc877" stroke="#a98e58" stroke-width="0.75" stroke-linejoin="round"/></svg></div>
<div class="t r b" style="left:103px;top:435.80px;width:29px;height:14.70px;line-height:14.70px;">19</div>
<div class="t jp red" style="left:138.5px;top:437.20px;width:96.5px;height:14.70px;line-height:14.70px;font-size:12.5px;overflow:hidden;font-weight:500;">東京医科</div>
<div class="t r" style="left:237px;top:435.80px;width:62.5px;height:14.70px;line-height:14.70px;">137</div>
<div class="t r" style="left:302.5px;top:435.80px;width:59.5px;height:14.70px;line-height:14.70px;">4,110</div>
<div class="t r" style="left:365.5px;top:435.80px;width:40.5px;height:14.70px;line-height:14.70px;">30.0</div>
<div class="t r b" style="left:410px;top:435.80px;width:61.5px;height:14.70px;line-height:14.70px;">127</div>
<div class="t r b" style="left:474.5px;top:435.80px;width:60.0px;height:14.70px;line-height:14.70px;">3,758</div>
<div class="t r b" style="left:537.5px;top:435.80px;width:41.0px;height:14.70px;line-height:14.70px;">29.6</div>
<div class="t r b" style="left:582.5px;top:435.80px;width:62.5px;height:14.70px;line-height:14.70px;color:#c8141e;"><svg width="8.5" height="8" viewBox="0 0 8.5 8" style="margin-right:2.4px;vertical-align:0.4px"><polygon points="0,0 8.5,0 4.25,8" fill="#f20c0c"/></svg>352</div>
<div class="t r b" style="left:648.5px;top:435.80px;width:70.0px;height:14.70px;line-height:14.70px;">91.4%</div>
<div class="a" style="left:649.6px;top:438.50px;line-height:0"><svg width="11.5" height="11.5" viewBox="0 0 11.5 11.5"><path d="M2.7,0.6 L8.0,5.9 L8.0,3.4 L10.8,0.9 L10.8,10.8 L0.9,10.8 L3.4,8.0 L5.9,8.0 L0.6,2.7 Z" fill="#efc877" stroke="#a98e58" stroke-width="0.75" stroke-linejoin="round"/></svg></div>
<div class="t r b" style="left:103px;top:452.10px;width:29px;height:14.70px;line-height:14.70px;">20</div>
<div class="t jp red" style="left:138.5px;top:453.50px;width:96.5px;height:14.70px;line-height:14.70px;font-size:12.5px;overflow:hidden;font-weight:500;">東京国際</div>
<div class="t r" style="left:237px;top:452.10px;width:62.5px;height:14.70px;line-height:14.70px;">851</div>
<div class="t r" style="left:302.5px;top:452.10px;width:59.5px;height:14.70px;line-height:14.70px;">3,074</div>
<div class="t r" style="left:365.5px;top:452.10px;width:40.5px;height:14.70px;line-height:14.70px;">3.6</div>
<div class="t r b" style="left:410px;top:452.10px;width:61.5px;height:14.70px;line-height:14.70px;">570</div>
<div class="t r b" style="left:474.5px;top:452.10px;width:60.0px;height:14.70px;line-height:14.70px;">2,730</div>
<div class="t r b" style="left:537.5px;top:452.10px;width:41.0px;height:14.70px;line-height:14.70px;">4.8</div>
<div class="t r b" style="left:582.5px;top:452.10px;width:62.5px;height:14.70px;line-height:14.70px;color:#c8141e;"><svg width="8.5" height="8" viewBox="0 0 8.5 8" style="margin-right:2.4px;vertical-align:0.4px"><polygon points="0,0 8.5,0 4.25,8" fill="#f20c0c"/></svg>344</div>
<div class="t r b" style="left:648.5px;top:452.10px;width:70.0px;height:14.70px;line-height:14.70px;">88.8%</div>
<div class="a" style="left:649.6px;top:454.80px;line-height:0"><svg width="11.5" height="11.5" viewBox="0 0 11.5 11.5"><path d="M2.7,0.6 L8.0,5.9 L8.0,3.4 L10.8,0.9 L10.8,10.8 L0.9,10.8 L3.4,8.0 L5.9,8.0 L0.6,2.7 Z" fill="#efc877" stroke="#a98e58" stroke-width="0.75" stroke-linejoin="round"/></svg></div>
<div class="a" style="left:104.5px;top:469px;font-family:'Liberation Sans','Noto Sans CJK JP',sans-serif;font-weight:500;font-size:12.2px;line-height:18px;color:#111;white-space:nowrap;-webkit-text-stroke:0.15px #111"><span style="-webkit-text-stroke:0.7px #111">※</span>赤字は志願者数が確定している大学</div>
<div class="a" style="left:0;top:0;width:826px;height:620px;font-family:'Liberation Sans','Noto Sans CJK JP',sans-serif;font-weight:900;color:#f01c1c;-webkit-text-stroke:1.2px #f01c1c;font-size:40px;line-height:50px;white-space:nowrap;pointer-events:none"><span style="position:absolute;left:0;top:0;transform:matrix(0.4075,0,0,0.6167,594.10,468.52);transform-origin:0 0">代</span><span style="position:absolute;left:0;top:0;transform:matrix(0.3471,0,0,0.6371,610.66,469.28);transform-origin:0 0">々</span><span style="position:absolute;left:0;top:0;transform:matrix(0.3762,0,0,0.5887,624.60,469.50);transform-origin:0 0">木</span><span style="position:absolute;left:0;top:0;transform:matrix(0.3700,0,0,0.5887,641.35,470.08);transform-origin:0 0">ゼ</span><span style="position:absolute;left:0;top:0;transform:matrix(0.3767,0,0,0.6729,656.84,467.14);transform-origin:0 0">ミ</span><span style="position:absolute;left:0;top:0;transform:matrix(0.3871,0,0,0.6365,670.44,467.78);transform-origin:0 0">ナ</span><span style="position:absolute;left:0;top:0;transform:matrix(0.2588,0,0,0.4778,685.82,474.52);transform-origin:0 0">ー</span><span style="position:absolute;left:0;top:0;transform:matrix(0.3200,0,0,0.6800,696.10,466.84);transform-origin:0 0">ル</span></div>
<div class="a" style="left:0;top:0;width:826px;height:620px;font-family:'Liberation Sans',sans-serif;font-weight:700;color:#7a7a7a;-webkit-text-stroke:1.0px #7a7a7a;font-size:40px;line-height:50px;white-space:nowrap;pointer-events:none"><span style="position:absolute;left:0;top:0;transform:matrix(0.4577,0,0,0.5733,622.53,506.62);transform-origin:0 0">R</span><span style="position:absolute;left:0;top:0;transform:matrix(0.5150,0,0,0.6000,636.54,506.15);transform-origin:0 0">e</span><span style="position:absolute;left:0;top:0;transform:matrix(0.4500,0,0,0.5739,647.90,506.59);transform-origin:0 0">s</span><span style="position:absolute;left:0;top:0;transform:matrix(0.5150,0,0,0.6227,658.24,505.26);transform-origin:0 0">e</span><span style="position:absolute;left:0;top:0;transform:matrix(0.6276,0,0,0.5667,668.89,506.88);transform-origin:0 0">M</span><span style="position:absolute;left:0;top:0;transform:matrix(0.4364,0,0,0.5783,689.51,506.42);transform-origin:0 0">o</span><span style="position:absolute;left:0;top:0;transform:matrix(0.5031,0,0,0.5542,700.04,507.38);transform-origin:0 0">m</span></div><div class="a" style="left:717.8px;top:527.1px;width:2.6px;height:2.6px;border-radius:50%;background:#7a7a7a"></div><div class="a" style="left:693.9px;top:521.6px;width:1.8px;height:1.8px;border-radius:50%;background:#7a7a7a"></div>
<div class="a" style="left:701px;top:509.8px;white-space:nowrap;font-family:'Liberation Sans','Noto Sans CJK JP',sans-serif;color:#888;font-size:4.6px;line-height:6px;letter-spacing:0.2px">リセマム</div>
</body></html>
